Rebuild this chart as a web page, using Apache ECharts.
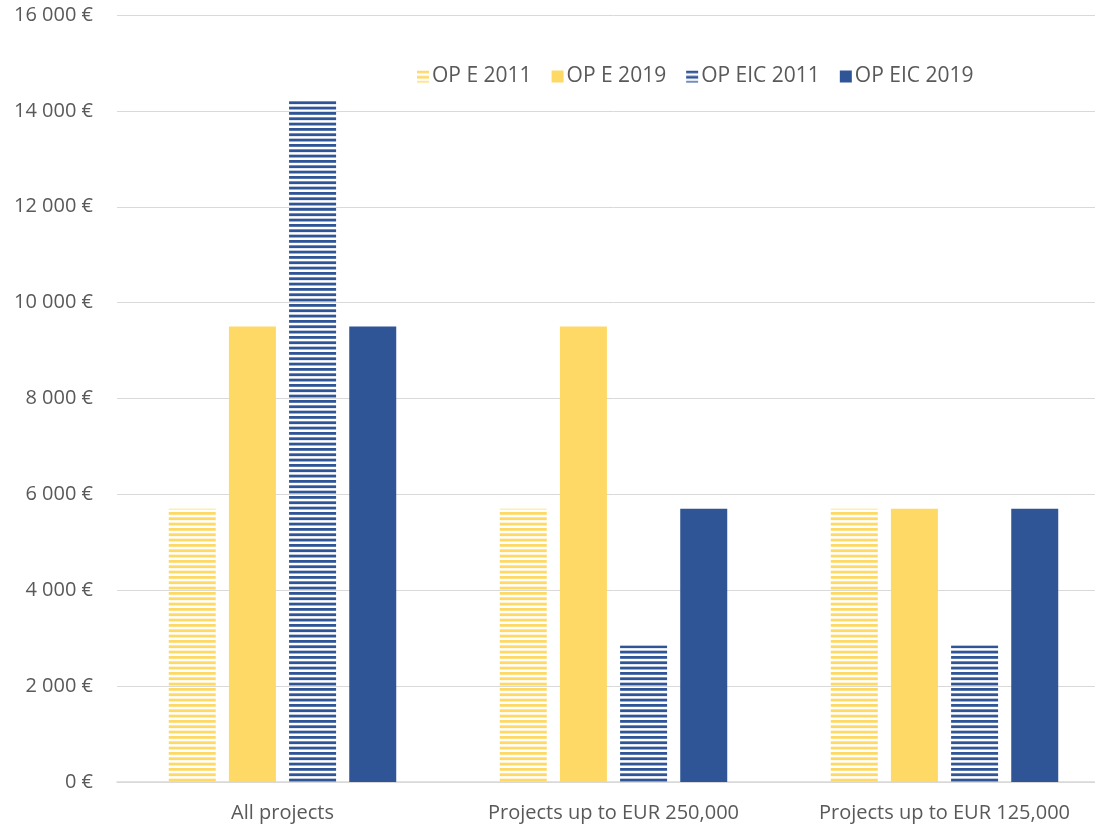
<!DOCTYPE html>
<html>
<head>
<meta charset="utf-8">
<script src="https://cdn.jsdelivr.net/npm/echarts@6/dist/echarts.min.js"></script>
<style>
  html, body { margin: 0; padding: 0; background: #fff; overflow: hidden; }
  /* plot area runs a little past the right edge, as in the source */
  #chart { width: 1110px; height: 828px; }
</style>
</head>
<body>
<div id="chart"></div>
<script>
// data
const categories = ["All projects", "Projects up to EUR 250,000", "Projects up to EUR 125,000"];
const seriesNames = ["OP E 2011", "OP E 2019", "OP EIC 2011", "OP EIC 2019"];
const opE2011 = [5700, 5700, 5700];
const opE2019 = [9500, 9500, 5700];
const opEIC2011 = [14250, 2850, 2850];
const opEIC2019 = [9500, 5700, 5700];

const yellow = "#FFD966";
const blue = "#2F5597";
const textColor = "#595959";
const fontName = "'Open Sans', Lato, sans-serif";

// horizontal stripes like the office chart pattern fill
const makeStripes = (color) => {
  const c = document.createElement("canvas");
  c.width = 8;
  c.height = 16;
  const ctx = c.getContext("2d");
  ctx.fillStyle = color;
  for (let k = 0; k < 3; k++) {
    ctx.fillRect(0, (k * 16) / 3, 8, 2.8);
  }
  return { image: c, repeat: "repeat" };
};

// "16 000 €" style labels
const euro = (v) => {
  if (v === 0) return "0 €";
  const th = Math.floor(v / 1000);
  const rest = String(v % 1000).padStart(3, "0");
  return th + " " + rest + " €";
};

const myChart = echarts.init(document.getElementById("chart"));

const barStyle = (name, data, color) => ({
  name: name,
  type: "bar",
  barWidth: 47,
  barGap: "28%",
  itemStyle: { color: color },
  data: data,
});

const option = {
  animation: false,
  textStyle: { fontFamily: fontName, color: textColor },
  legend: {
    top: 61,
    left: 412,
    itemWidth: 12,
    itemHeight: 12,
    itemGap: 20,
    icon: "rect",
    textStyle: { color: textColor, fontSize: 21, fontFamily: fontName, padding: [0, 0, 0, -2] },
    data: seriesNames,
  },
  grid: { left: 117, right: 0, top: 15, bottom: 46 },
  xAxis: {
    type: "category",
    data: categories,
    axisTick: { show: false },
    axisLine: { lineStyle: { color: "#D9D9D9", width: 1.5 } },
    axisLabel: { color: textColor, fontSize: 20, fontFamily: fontName, margin: 21, interval: 0 },
  },
  yAxis: {
    type: "value",
    min: 0,
    max: 16000,
    interval: 2000,
    axisLine: { show: false },
    axisTick: { show: false },
    splitLine: { lineStyle: { color: "#D9D9D9", width: 1 } },
    axisLabel: {
      color: textColor,
      fontSize: 20,
      fontFamily: fontName,
      margin: 24,
      formatter: euro,
    },
  },
  series: [
    barStyle(seriesNames[0], opE2011, makeStripes(yellow)),
    barStyle(seriesNames[1], opE2019, yellow),
    barStyle(seriesNames[2], opEIC2011, makeStripes(blue)),
    barStyle(seriesNames[3], opEIC2019, blue),
  ],
};

myChart.setOption(option);
</script>
</body>
</html>
